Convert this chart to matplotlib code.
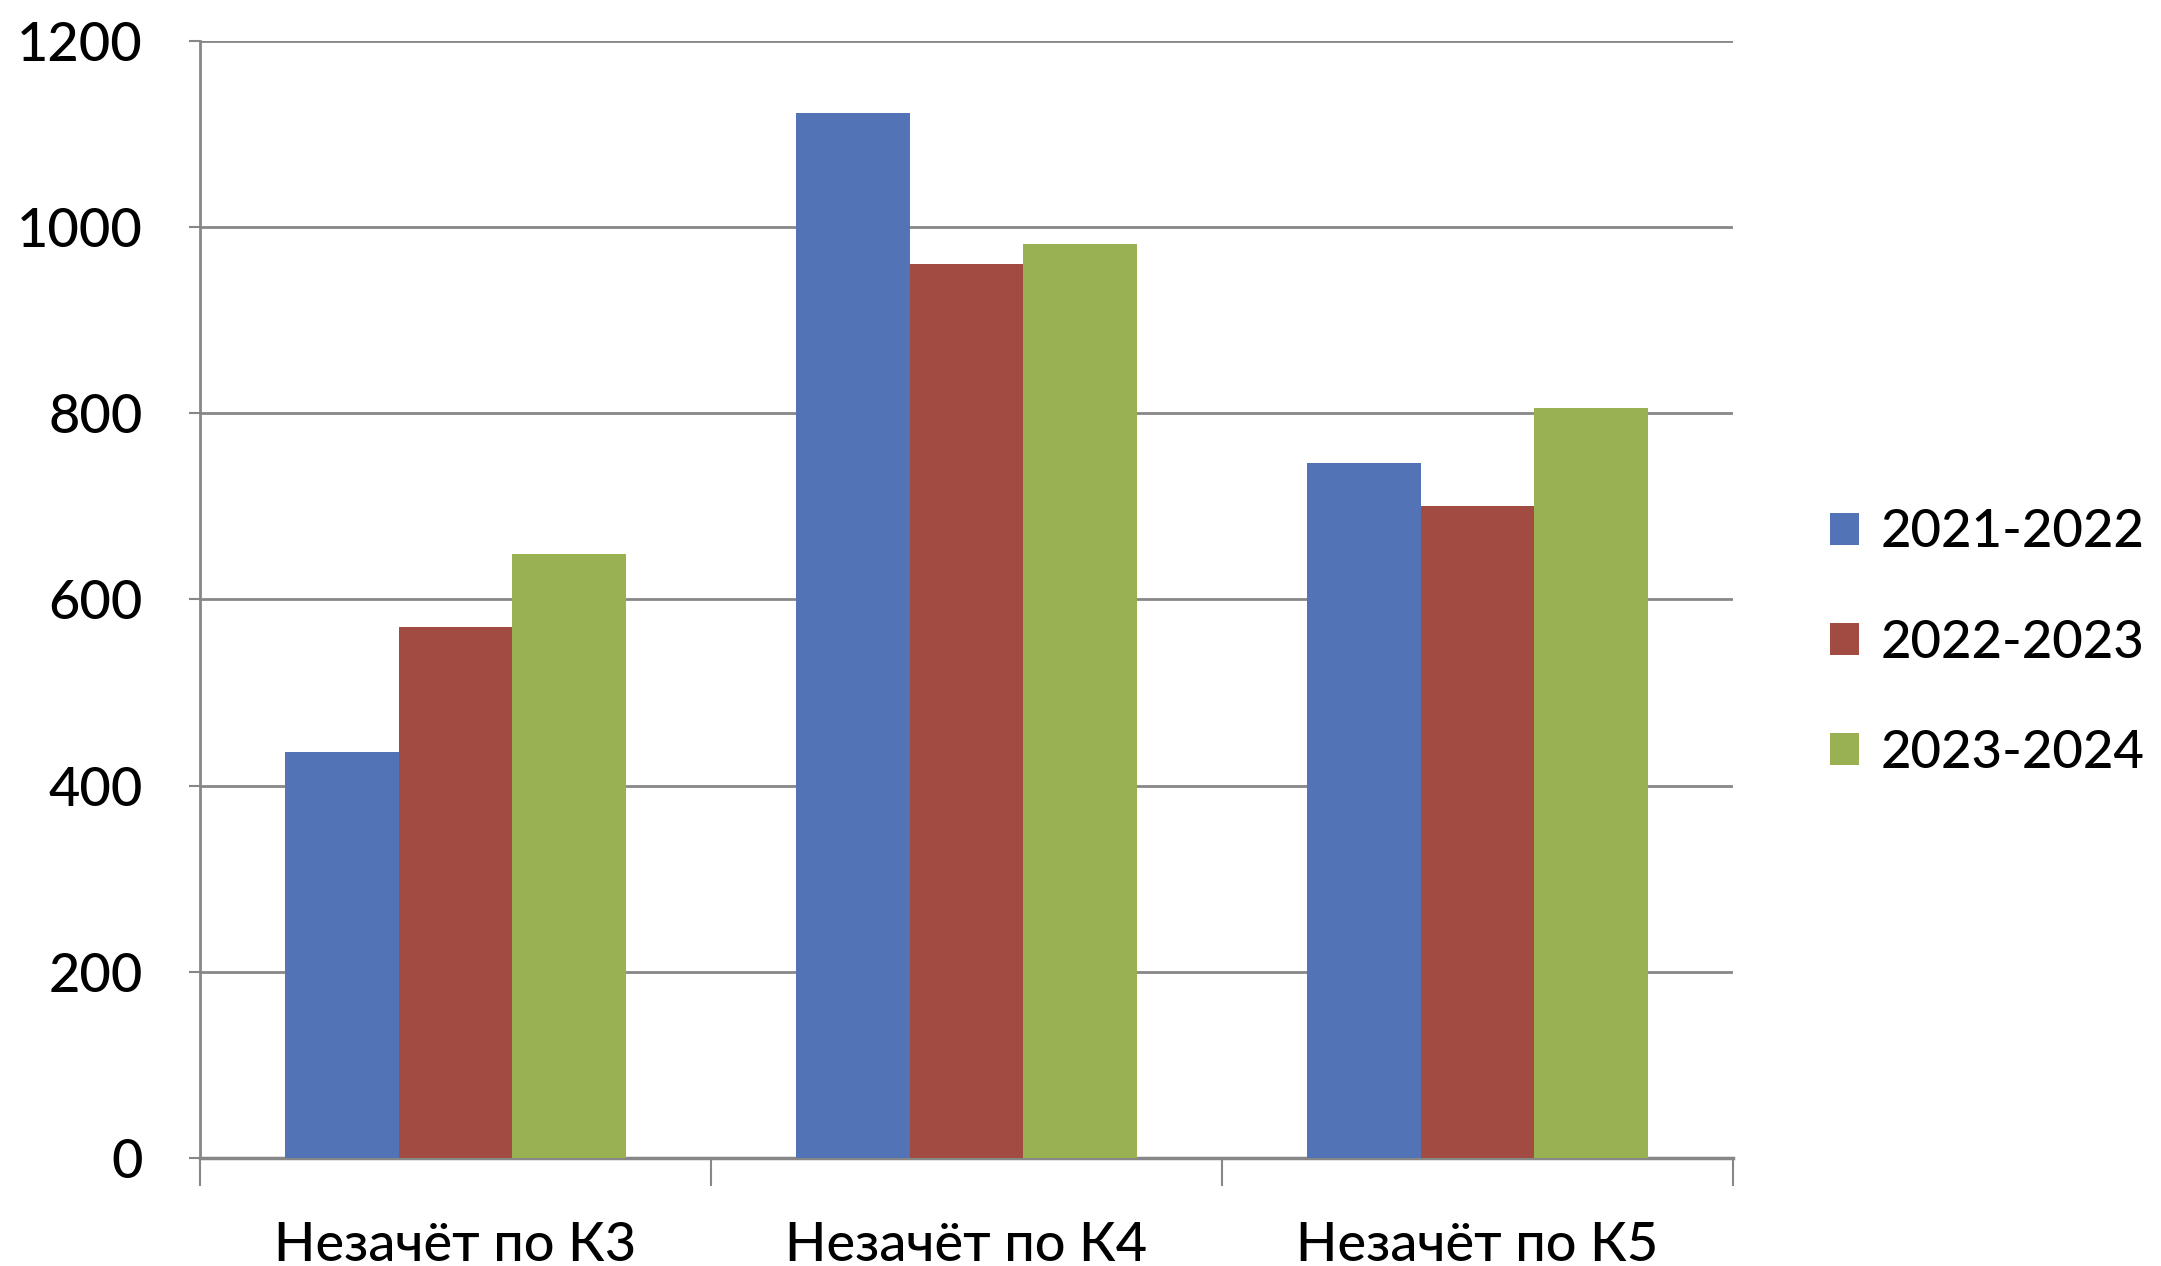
import numpy as np
import matplotlib
matplotlib.use("Agg")
import matplotlib.pyplot as plt

categories = ["Незачёт по К3", "Незачёт по К4", "Незачёт по К5"]
series_names = ["2021-2022", "2022-2023", "2023-2024"]
values_2021 = [436, 1122, 746]
values_2022 = [570, 960, 700]
values_2023 = [649, 981, 805]
colors = ["#5273B5", "#A24B42", "#9AB153"]

plt.rcParams["font.family"] = ["Lato", "DejaVu Sans"]

fig = plt.figure(figsize=(21.61, 12.66), dpi=100)
ax = fig.add_axes([0.0925, 0.0853, 0.7095, 0.8827])

x = np.arange(len(categories))
w = 1 / 4.5
for i, (name, vals) in enumerate(zip(series_names, [values_2021, values_2022, values_2023])):
    ax.bar(x + (i - 1) * w, vals, width=w, color=colors[i], label=name, zorder=3)

ax.set_xlim(-0.5, 2.5)
ax.set_ylim(0, 1200)
ax.set_yticks(range(0, 1201, 200))
ax.yaxis.grid(True, color="#878787", linewidth=2)
ax.set_axisbelow(True)

# category labels between boundary ticks
ax.set_xticks([-0.5, 0.5, 1.5, 2.5])
ax.set_xticklabels([])
ax.set_xticks(x, minor=True)
ax.set_xticklabels(categories, minor=True, fontsize=39, fontweight="medium")
ax.tick_params(axis="x", which="minor", length=0, pad=45)
ax.tick_params(axis="x", which="major", length=20, width=1.5, color="#878787")
ax.tick_params(axis="y", length=8, width=1.5, color="#878787", labelsize=39, pad=33)
for lbl in ax.get_yticklabels():
    lbl.set_fontweight("medium")

for s in ["top", "right"]:
    ax.spines[s].set_visible(False)
ax.spines["left"].set_color("#878787")
ax.spines["left"].set_linewidth(2)
ax.spines["bottom"].set_color("#878787")
ax.spines["bottom"].set_linewidth(2.5)

fig.legend(loc="center left", bbox_to_anchor=(0.825, 0.492), frameon=False,
           prop={"size": 38, "weight": "medium"}, handlelength=0.55, handleheight=0.55,
           handletextpad=0.4, labelspacing=1.2)

fig.savefig("out.png", dpi=100)
